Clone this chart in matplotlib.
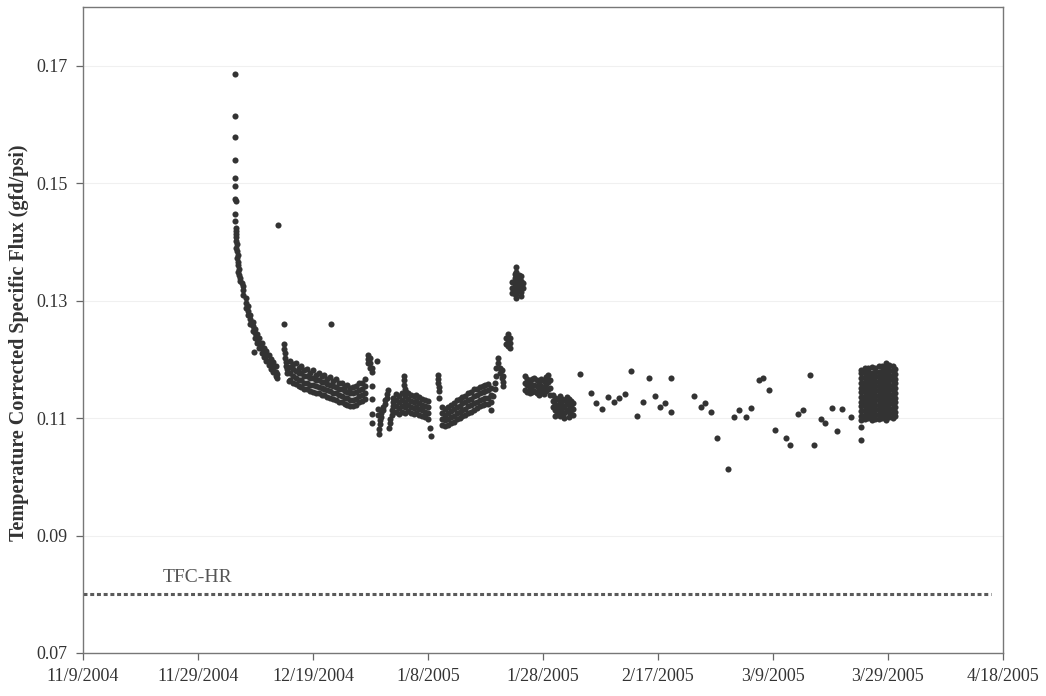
import numpy as np
import matplotlib
matplotlib.use("Agg")
import matplotlib.pyplot as plt
import matplotlib.dates as mdates
from datetime import datetime

# days are counted from 11/9/2004
start = datetime(2004, 11, 9)

tick_labels = ["11/9/2004", "11/29/2004", "12/19/2004", "1/8/2005", "1/28/2005",
               "2/17/2005", "3/9/2005", "3/29/2005", "4/18/2005"]
y_ticks = [0.07, 0.09, 0.11, 0.13, 0.15, 0.17]

# initial start-up drop
drop_days = [26.5, 26.5, 26.5, 26.5, 26.5, 26.5, 26.5, 26.6, 26.5, 26.5, 26.6, 26.6, 26.7, 26.6,
             26.7, 26.8, 26.7, 26.8, 26.9, 26.8, 27.0, 26.9, 27.1, 27.0, 27.2, 27.4, 27.3, 27.6, 27.8]
drop_vals = [0.1686, 0.1615, 0.1578, 0.1539, 0.1508, 0.1495, 0.1473, 0.1470, 0.1447, 0.1436, 0.1424,
             0.1419, 0.1414, 0.1408, 0.1402, 0.1396, 0.1390, 0.1384, 0.1378, 0.1372, 0.1366, 0.1360,
             0.1354, 0.1349, 0.1344, 0.1338, 0.1334, 0.1330, 0.1325]

decay_days = [27.9, 27.9, 28.3, 28.3, 28.3, 28.7, 28.7, 28.7, 29.1, 29.1, 29.1, 29.5, 29.5, 29.5,
              29.9, 29.9, 29.9, 30.3, 30.3, 30.3, 30.7, 30.7, 30.7, 31.1, 31.1, 31.1, 31.5, 31.5, 31.5,
              31.9, 31.9, 31.9, 32.3, 32.3, 32.3, 32.7, 32.7, 32.7, 33.1, 33.1, 33.1, 33.5, 33.5, 33.5,
              33.8, 33.8, 29.8]
decay_vals = [0.1318, 0.1310, 0.1305, 0.1296, 0.1288, 0.1290, 0.1282, 0.1275, 0.1276, 0.1268, 0.1261,
              0.1264, 0.1256, 0.1249, 0.1252, 0.1244, 0.1237, 0.1243, 0.1235, 0.1228, 0.1236, 0.1227,
              0.1219, 0.1228, 0.1219, 0.1211, 0.1220, 0.1212, 0.1204, 0.1214, 0.1205, 0.1197, 0.1207,
              0.1198, 0.1190, 0.1200, 0.1192, 0.1184, 0.1195, 0.1186, 0.1178, 0.1188, 0.1179, 0.1172,
              0.1175, 0.1168, 0.1212]

outlier_days = [33.9, 34.9, 43.1]
outlier_vals = [0.1429, 0.1261, 0.1261]

dec_days = [34.9, 34.9, 35.1, 35.1, 35.3, 35.3, 35.5, 35.5, 35.8,
            36.0, 36.0, 36.0, 36.0, 36.5, 36.5, 36.5, 36.5, 37.0, 37.0, 37.0, 37.0,
            37.5, 37.5, 37.5, 37.5, 38.0, 38.0, 38.0, 38.0, 38.5, 38.5, 38.5, 38.5,
            39.0, 39.0, 39.0, 39.0, 39.5, 39.5, 39.5, 39.5, 40.0, 40.0, 40.0, 40.0,
            40.5, 40.5, 40.5, 40.5, 41.0, 41.0, 41.0, 41.0, 41.5, 41.5, 41.5, 41.5,
            42.0, 42.0, 42.0, 42.0, 42.5, 42.5, 42.5, 42.5, 43.0, 43.0, 43.0, 43.0,
            43.5, 43.5, 43.5, 43.5, 44.0, 44.0, 44.0, 44.0, 44.5, 44.5, 44.5, 44.5,
            45.0, 45.0, 45.0, 45.0, 45.5, 45.5, 45.5, 45.5, 46.0, 46.0, 46.0, 46.0,
            46.5, 46.5, 46.5, 46.5, 47.0, 47.0, 47.0, 47.0, 47.5, 47.5, 47.5, 47.5,
            48.0, 48.0, 48.0, 48.0, 48.5, 48.5, 48.5, 48.5, 49.0, 49.0, 49.0, 49.0]
dec_vals = [0.1226, 0.1217, 0.1210, 0.1202, 0.1196, 0.1189, 0.1184, 0.1176, 0.1163,
            0.1198, 0.1187, 0.1176, 0.1165, 0.1192, 0.1183, 0.1171, 0.1160,
            0.1193, 0.1180, 0.1169, 0.1158, 0.1186, 0.1177, 0.1165, 0.1155,
            0.1189, 0.1176, 0.1164, 0.1153, 0.1181, 0.1172, 0.1160, 0.1150,
            0.1184, 0.1171, 0.1160, 0.1149, 0.1177, 0.1168, 0.1157, 0.1146,
            0.1181, 0.1169, 0.1157, 0.1145, 0.1174, 0.1165, 0.1154, 0.1143,
            0.1177, 0.1164, 0.1153, 0.1142, 0.1171, 0.1162, 0.1151, 0.1140,
            0.1174, 0.1161, 0.1150, 0.1139, 0.1167, 0.1158, 0.1147, 0.1136,
            0.1170, 0.1157, 0.1146, 0.1135, 0.1163, 0.1154, 0.1143, 0.1132,
            0.1166, 0.1153, 0.1142, 0.1131, 0.1159, 0.1150, 0.1139, 0.1128,
            0.1160, 0.1149, 0.1138, 0.1127, 0.1155, 0.1146, 0.1135, 0.1124,
            0.1156, 0.1145, 0.1134, 0.1123, 0.1151, 0.1142, 0.1131, 0.1121,
            0.1153, 0.1142, 0.1131, 0.1120, 0.1155, 0.1144, 0.1133, 0.1123,
            0.1160, 0.1148, 0.1137, 0.1127, 0.1160, 0.1150, 0.1139, 0.1129,
            0.1166, 0.1154, 0.1143, 0.1133]

# late december disturbance
dist_days = [49.6, 49.6, 49.6, 49.9, 49.9, 49.9, 50.2, 50.2, 51.1, 50.2, 50.3, 50.2, 50.2,
             51.3, 51.3, 51.5, 51.5, 51.7, 51.7, 51.9, 51.9, 52.2, 52.2, 52.5, 52.5, 52.8, 52.8,
             53.1, 53.2, 53.4, 53.4, 53.7, 53.7, 54.0, 54.0, 54.0]
dist_vals = [0.1208, 0.1201, 0.1194, 0.1203, 0.1194, 0.1186, 0.1186, 0.1179, 0.1198, 0.1154,
             0.1132, 0.1107, 0.1092, 0.1116, 0.1106, 0.1073, 0.1082, 0.1090, 0.1097, 0.1102,
             0.1108, 0.1114, 0.1119, 0.1124, 0.1130, 0.1135, 0.1141, 0.1147, 0.1083, 0.1091,
             0.1098, 0.1106, 0.1114, 0.1121, 0.1128, 0.1134]

jan_days = [54.5, 54.5, 54.5, 54.5, 55.0, 55.0, 55.0, 55.0, 55.5, 55.5, 55.5, 55.5,
            56.0, 56.0, 56.0, 56.0, 56.5, 56.5, 56.5, 56.5, 57.0, 57.0, 57.0, 57.0,
            57.5, 57.5, 57.5, 57.5, 58.0, 58.0, 58.0, 58.0, 58.5, 58.5, 58.5, 58.5,
            59.0, 59.0, 59.0, 59.0, 59.5, 59.5, 59.5, 59.5, 60.0, 60.0, 60.0, 60.0,
            55.8, 55.8, 55.9, 56.0, 56.1, 60.3, 60.5,
            61.7, 61.8, 61.8, 61.9, 61.9, 62.0,
            62.5, 62.5, 62.5, 62.5, 63.0, 63.0, 63.0, 63.0, 63.5, 63.5, 63.5, 63.5,
            64.0, 64.0, 64.0, 64.0, 64.5, 64.5, 64.5, 64.5, 65.0, 65.0, 65.0, 65.0,
            65.5, 65.5, 65.5, 65.5, 66.0, 66.0, 66.0, 66.0, 66.5, 66.5, 66.5, 66.5,
            67.0, 67.0, 67.0, 67.0, 67.5, 67.5, 67.5, 67.5, 68.0, 68.0, 68.0, 68.0,
            68.5, 68.5, 68.5, 68.5, 69.0, 69.0, 69.0, 69.0, 69.5, 69.5, 69.5, 69.5,
            70.0, 70.0, 70.0, 70.0, 70.5, 70.5, 70.5, 70.5, 71.0, 71.0, 71.0, 71.0]
jan_vals = [0.1141, 0.1130, 0.1120, 0.1110, 0.1137, 0.1127, 0.1117, 0.1107,
            0.1142, 0.1131, 0.1121, 0.1111, 0.1138, 0.1128, 0.1118, 0.1108,
            0.1143, 0.1132, 0.1122, 0.1112, 0.1139, 0.1129, 0.1119, 0.1109,
            0.1137, 0.1127, 0.1117, 0.1107, 0.1140, 0.1129, 0.1119, 0.1109,
            0.1136, 0.1126, 0.1116, 0.1106, 0.1133, 0.1123, 0.1113, 0.1103,
            0.1131, 0.1121, 0.1111, 0.1101, 0.1129, 0.1119, 0.1109, 0.1099,
            0.1171, 0.1164, 0.1157, 0.1150, 0.1144, 0.1083, 0.1070,
            0.1174, 0.1167, 0.1160, 0.1153, 0.1146, 0.1134,
            0.1118, 0.1108, 0.1098, 0.1089, 0.1116, 0.1106, 0.1096, 0.1087,
            0.1119, 0.1109, 0.1099, 0.1089, 0.1123, 0.1112, 0.1101, 0.1091,
            0.1126, 0.1115, 0.1104, 0.1094, 0.1130, 0.1119, 0.1108, 0.1098,
            0.1132, 0.1121, 0.1110, 0.1100, 0.1136, 0.1125, 0.1114, 0.1104,
            0.1138, 0.1127, 0.1116, 0.1106, 0.1142, 0.1131, 0.1120, 0.1109,
            0.1144, 0.1133, 0.1122, 0.1111, 0.1149, 0.1138, 0.1126, 0.1114,
            0.1150, 0.1139, 0.1128, 0.1117, 0.1153, 0.1142, 0.1131, 0.1120,
            0.1155, 0.1144, 0.1133, 0.1122, 0.1157, 0.1146, 0.1135, 0.1124,
            0.1158, 0.1147, 0.1135, 0.1124, 0.1152, 0.1140, 0.1128, 0.1114]

# rise and peak around 1/24/2005
peak_days = [71.4, 71.6, 71.6, 71.9, 71.9, 72.2, 72.2, 72.5, 72.5, 72.8, 72.8, 73.1, 73.1, 73.1,
             73.6, 73.6, 73.9, 73.9, 73.9, 74.2, 74.2, 74.2,
             74.7, 74.7, 74.7, 75.1, 75.1, 75.1, 75.1, 75.1,
             75.4, 75.4, 75.4, 75.4, 75.4, 75.4, 75.4, 75.8, 75.8, 75.8, 75.8,
             76.2, 76.2, 76.2, 76.2, 76.2, 76.5, 76.5]
peak_vals = [0.1137, 0.1150, 0.1160, 0.1172, 0.1186, 0.1194, 0.1202, 0.1186, 0.1176, 0.1181,
             0.1168, 0.1172, 0.1162, 0.1155,
             0.1236, 0.1226, 0.1243, 0.1233, 0.1222, 0.1237, 0.1227, 0.1219,
             0.1332, 0.1322, 0.1313, 0.1346, 0.1338, 0.1329, 0.1320, 0.1311,
             0.1357, 0.1348, 0.1340, 0.1331, 0.1322, 0.1312, 0.1304, 0.1344, 0.1336, 0.1327, 0.1318,
             0.1342, 0.1333, 0.1324, 0.1315, 0.1307, 0.1330, 0.1321]

feb_days = [76.9, 76.9, 76.9, 77.3, 77.3, 77.3, 77.7, 77.7, 77.7, 78.1, 78.1, 78.1,
            78.5, 78.5, 78.5, 78.9, 78.9, 78.9, 79.3, 79.3, 79.3, 79.7, 79.7, 79.7,
            80.1, 80.1, 80.1, 80.5, 80.5, 80.5, 80.9, 80.9, 80.9, 81.3, 81.3, 81.3,
            81.7, 81.7, 81.7, 82.1, 82.1, 82.1, 82.1, 82.5, 82.5, 82.5,
            82.9, 82.9, 82.9, 82.9, 83.3, 83.3, 83.3, 83.7, 83.7, 83.7, 83.7,
            84.1, 84.1, 84.1, 84.5, 84.5, 84.5, 84.5, 84.9, 84.9, 84.9, 85.3, 85.3, 85.3]
feb_vals = [0.1172, 0.1160, 0.1148, 0.1167, 0.1156, 0.1145, 0.1162, 0.1152, 0.1142,
            0.1166, 0.1155, 0.1144, 0.1168, 0.1157, 0.1146, 0.1165, 0.1154, 0.1143,
            0.1161, 0.1150, 0.1139, 0.1166, 0.1155, 0.1144, 0.1163, 0.1152, 0.1141,
            0.1170, 0.1158, 0.1146, 0.1173, 0.1161, 0.1149, 0.1164, 0.1152, 0.1140,
            0.1140, 0.1129, 0.1118, 0.1135, 0.1124, 0.1113, 0.1104, 0.1132, 0.1121, 0.1110,
            0.1137, 0.1126, 0.1115, 0.1103, 0.1133, 0.1122, 0.1111, 0.1130, 0.1119, 0.1108, 0.1100,
            0.1136, 0.1125, 0.1114, 0.1133, 0.1122, 0.1111, 0.1102, 0.1129, 0.1118, 0.1107,
            0.1125, 0.1115, 0.1105]

# daily grab samples
grab_days = [86.4, 88.3, 89.2, 90.2, 91.3, 92.3, 93.2, 94.2, 95.3, 96.3, 97.4, 98.4, 99.5,
             100.3, 101.2, 102.3, 102.3, 106.3, 107.5, 108.2, 109.2, 110.3, 112.2, 113.3,
             114.1, 115.4, 116.2, 117.5, 118.2, 119.4, 120.4, 122.3, 123.0, 124.3, 125.3,
             126.4, 127.1, 128.3, 129.1, 130.2, 131.1, 132.1, 133.5, 135.4, 135.4]
grab_vals = [0.1175, 0.1142, 0.1125, 0.1115, 0.1136, 0.1127, 0.1134, 0.1141, 0.1180, 0.1103,
             0.1127, 0.1169, 0.1137, 0.1119, 0.1125, 0.1169, 0.1110, 0.1137, 0.1119, 0.1125,
             0.1110, 0.1066, 0.1014, 0.1102, 0.1114, 0.1102, 0.1117, 0.1164, 0.1168, 0.1147,
             0.1080, 0.1066, 0.1054, 0.1107, 0.1114, 0.1173, 0.1054, 0.1098, 0.1092, 0.1117,
             0.1078, 0.1115, 0.1102, 0.1085, 0.1063]

# continuous logging at the end of March
block_days = [135.4, 136.0, 136.6, 137.2, 137.8, 138.4, 139.0, 139.6, 140.2, 140.8, 141.3]
block_vals = [
    [0.1096, 0.1104, 0.1112, 0.1120, 0.1128, 0.1136, 0.1144, 0.1152, 0.1160, 0.1168, 0.1176, 0.1182],
    [0.1098, 0.1106, 0.1114, 0.1122, 0.1130, 0.1138, 0.1146, 0.1154, 0.1162, 0.1170, 0.1178, 0.1185],
    [0.1100, 0.1108, 0.1116, 0.1124, 0.1132, 0.1140, 0.1148, 0.1156, 0.1164, 0.1172, 0.1180, 0.1186],
    [0.1097, 0.1105, 0.1113, 0.1121, 0.1129, 0.1137, 0.1145, 0.1153, 0.1161, 0.1169, 0.1177, 0.1187],
    [0.1099, 0.1107, 0.1115, 0.1123, 0.1131, 0.1139, 0.1147, 0.1155, 0.1163, 0.1171, 0.1179, 0.1186],
    [0.1098, 0.1106, 0.1114, 0.1122, 0.1130, 0.1138, 0.1146, 0.1154, 0.1162, 0.1170, 0.1178, 0.1188],
    [0.1100, 0.1108, 0.1116, 0.1124, 0.1132, 0.1140, 0.1148, 0.1156, 0.1164, 0.1172, 0.1180, 0.1189],
    [0.1097, 0.1105, 0.1113, 0.1121, 0.1129, 0.1137, 0.1145, 0.1153, 0.1161, 0.1169, 0.1177, 0.1185, 0.1193],
    [0.1101, 0.1109, 0.1117, 0.1125, 0.1133, 0.1141, 0.1149, 0.1157, 0.1165, 0.1173, 0.1181, 0.1190],
    [0.1100, 0.1108, 0.1116, 0.1124, 0.1132, 0.1140, 0.1148, 0.1156, 0.1164, 0.1172, 0.1180, 0.1188],
    [0.1103, 0.1111, 0.1119, 0.1127, 0.1135, 0.1143, 0.1151, 0.1159, 0.1167, 0.1175, 0.1183],
]

tfc_hr = 0.080

# --- put everything together ---
all_days = drop_days + decay_days + outlier_days + dec_days + dist_days + jan_days \
    + peak_days + feb_days + grab_days
all_vals = drop_vals + decay_vals + outlier_vals + dec_vals + dist_vals + jan_vals \
    + peak_vals + feb_vals + grab_vals
for d, col in zip(block_days, block_vals):
    all_days += [d] * len(col)
    all_vals += col

x0 = mdates.date2num(start)
x = x0 + np.array(all_days)

plt.rcParams['font.family'] = ['Liberation Serif', 'DejaVu Serif']

fig = plt.figure(figsize=(10.46, 6.96), dpi=100)
ax = fig.add_axes([0.0793, 0.0618, 0.8795, 0.9282])

ax.plot(x, all_vals, 'o', ms=4.4, mew=0, color='#333333', zorder=3)

ax.plot([x0, x0 + 158], [tfc_hr, tfc_hr], color='#5a5a5a', lw=2.2,
        linestyle=(0, (1.3, 0.9)), zorder=2)
ax.text(x0 + 19.9, 0.0829, 'TFC-HR', fontsize=14, color='#555555',
        ha='center', va='center')

ax.set_xlim(x0, x0 + 160)
ax.set_ylim(0.07, 0.18)
ax.set_xticks([x0 + 20 * i for i in range(len(tick_labels))])
ax.set_xticklabels(tick_labels)
ax.set_yticks(y_ticks)
ax.set_yticklabels([f"{v:.2f}" for v in y_ticks])

ax.tick_params(direction='out', length=5, width=0.9, colors='#666666',
               labelsize=13, labelcolor='#333333', pad=6)
for s in ax.spines.values():
    s.set_color('#777777')
    s.set_linewidth(1.0)

ax.grid(axis='y', color='#f0f0f0', lw=0.8, zorder=0)
ax.set_axisbelow(True)

ax.set_ylabel('Temperature Corrected Specific Flux (gfd/psi)', fontsize=14.5,
              fontweight='bold', color='#333333')
ax.yaxis.set_label_coords(-0.059, 0.48)

fig.savefig('out.png', dpi=100)
